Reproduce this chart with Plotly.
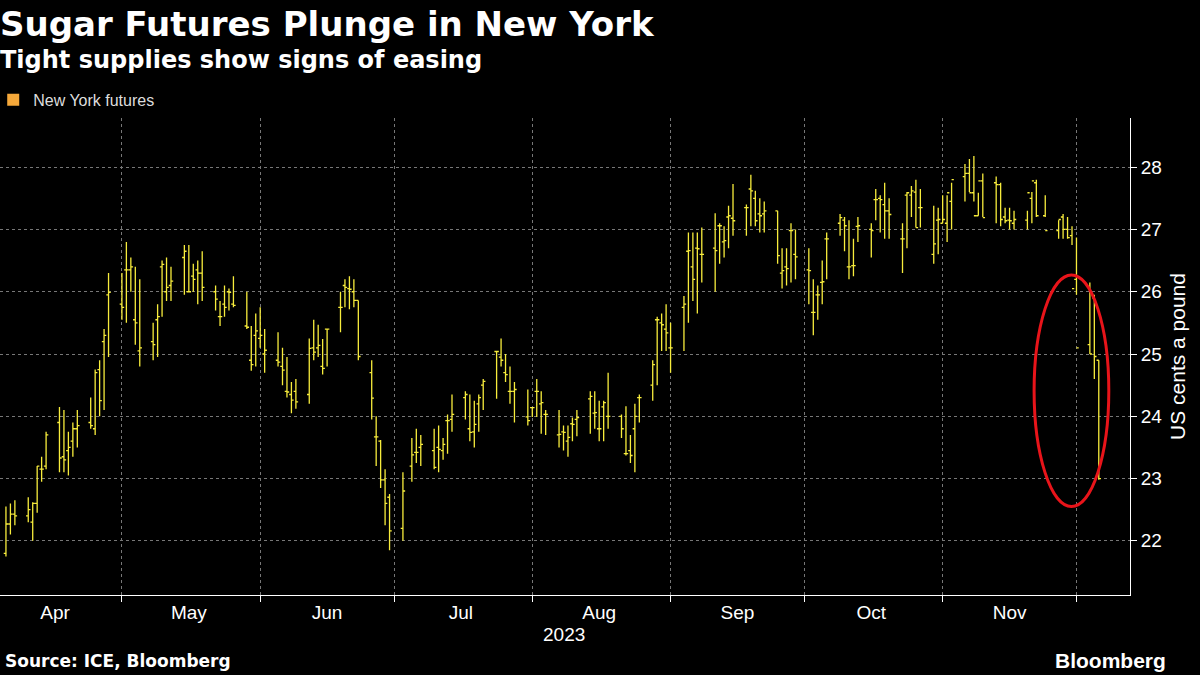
import pandas as pd
import plotly.graph_objects as go

opens = [21.80,22.27,22.43,22.40,22.30,22.60,23.15,23.20,23.90,23.35,23.45,23.60,23.80,23.90,23.80,24.75,25.20,25.95,25.80,26.35,26.35,25.55,25.05,25.20,25.55,26.40,26.00,26.10,26.55,26.00,26.25,26.35,
26.30,26.00,25.60,25.80,26.00,25.80,25.45,24.90,25.30,25.25,25.00,24.90,24.80,24.40,24.35,24.40,24.35,25.10,25.10,24.80,25.40,25.75,26.10,26.05,26.00,25.86,24.70,23.67,23.60,22.98,22.70,22.20,23.20,
23.42,23.50,23.45,23.50,23.45,23.93,23.95,24.30,23.80,23.75,24.20,24.50,25.04,24.95,24.70,24.40,24.40,23.99,24.14,24.40,24.20,24.03,23.70,23.75,23.60,23.88,23.95,24.28,24.05,23.80,24.15,24.00,24.00,23.40,23.45,23.80,24.30,24.50,
25.55,25.50,25.40,25.10,25.75,26.65,26.40,26.70,26.60,26.70,27.06,26.80,27.20,27.18,27.35,27.65,27.50,27.25,27.25,27.30,26.30,26.40,26.98,26.60,26.35,25.67,25.95,26.15,26.85,27.10,27.15,26.40,26.42,27.05,27.00,27.48,
27.50,27.40,27.30,26.85,27.55,27.55,27.60,27.35,26.60,27.15,27.10,27.10,27.45,27.85,27.90,27.59,27.22,27.78,27.75,27.72,27.20,27.15,27.10,27.15,27.50,27.75,27.22,26.98,27.20,27.00,26.90,26.20,25.15,25.90,24.90]
highs = [22.55,22.60,22.65,22.70,22.62,23.20,23.35,23.75,24.15,24.10,23.75,23.90,24.10,24.30,24.75,24.90,25.40,26.30,26.30,26.80,26.55,26.40,26.20,25.50,25.80,26.50,26.55,26.40,26.75,26.75,26.45,26.50,
26.65,26.10,25.85,26.10,26.05,26.25,26.00,25.45,25.65,25.75,25.40,25.35,25.10,24.95,24.55,24.60,25.25,25.55,25.47,25.24,25.40,26.00,26.20,26.25,26.20,25.86,24.90,24.00,23.62,23.15,22.75,23.10,23.65,
23.80,23.70,23.80,23.85,23.65,24.03,24.35,24.40,24.35,24.25,24.35,24.60,25.04,25.25,25.00,24.80,24.55,24.43,24.14,24.60,24.40,24.10,24.10,23.85,23.85,23.98,24.10,24.40,24.40,24.25,24.25,24.70,24.03,24.16,23.70,24.20,24.35,24.90,
25.60,25.65,25.80,25.50,25.93,26.95,26.95,26.95,27.03,27.26,27.10,27.05,27.38,27.73,27.40,27.88,27.62,27.50,27.45,27.30,26.70,26.70,27.10,27.00,26.70,26.20,26.10,26.50,26.95,27.25,27.20,27.15,26.85,27.20,27.10,27.65,
27.55,27.75,27.50,27.10,27.60,27.70,27.80,27.65,27.38,27.35,27.55,27.55,27.75,28.05,28.13,28.18,27.59,27.90,27.85,27.75,27.35,27.35,27.30,27.30,27.60,27.80,27.55,27.15,27.25,27.20,27.05,26.87,26.15,25.95,24.90]
lows = [21.75,22.10,22.25,22.30,22.00,22.45,22.95,23.15,23.10,23.10,23.05,23.35,23.50,23.80,23.70,24.00,24.10,24.95,25.55,25.50,26.00,25.15,24.80,24.90,24.95,25.60,25.85,25.85,25.95,26.00,26.00,25.80,
25.85,25.70,25.45,25.60,25.70,25.75,25.40,24.73,24.80,25.10,24.70,24.80,24.50,24.30,24.05,24.12,24.20,24.90,24.95,24.67,24.80,25.35,25.75,25.72,25.75,24.90,23.95,23.20,22.85,22.25,21.85,22.00,22.95,
23.25,23.20,23.15,23.10,23.30,23.40,23.75,23.95,23.60,23.50,23.75,24.10,24.28,24.80,24.55,24.20,23.90,23.85,23.99,23.99,23.72,23.70,23.50,23.45,23.35,23.60,23.68,23.72,23.80,23.60,23.60,23.80,23.65,23.37,23.25,23.10,23.90,24.25,
24.50,25.05,25.05,24.70,25.05,25.50,25.85,25.65,26.15,26.00,26.45,26.55,26.70,26.90,26.90,27.05,27.05,26.95,26.95,26.45,26.05,26.10,26.15,26.20,25.80,25.30,25.55,25.80,26.20,26.90,26.65,26.20,26.25,26.80,26.55,27.15,
26.95,26.85,26.85,26.30,26.70,27.20,27.03,27.03,26.45,26.60,27.10,26.80,27.00,27.45,27.60,27.45,27.22,27.20,27.10,27.05,27.10,27.00,27.00,27.00,27.10,27.20,27.20,26.85,26.85,26.85,26.75,25.95,25.00,24.60,22.98]
closes = [22.27,22.43,22.40,22.50,22.60,23.20,23.15,23.70,23.33,23.30,23.50,23.80,23.85,23.85,24.70,24.25,25.30,25.99,25.75,26.35,26.40,25.50,25.10,25.15,25.60,26.44,26.07,26.17,26.65,26.00,26.20,26.30,
26.07,25.88,25.60,25.75,25.99,25.78,25.43,24.83,25.37,25.30,25.06,24.87,24.74,24.39,24.26,24.23,25.09,25.03,25.14,24.77,25.40,25.75,26.07,26.04,25.86,24.96,24.29,23.67,22.98,22.60,22.16,22.80,23.38,
23.42,23.55,23.18,23.47,23.55,23.93,24.03,24.35,23.74,23.87,24.30,24.56,25.04,24.90,24.67,24.40,24.43,23.93,24.14,24.40,24.22,24.03,23.71,23.74,23.66,23.87,23.98,24.32,24.06,23.80,24.22,24.00,23.80,23.40,23.37,24.00,24.30,24.83,
25.55,25.47,25.34,25.10,25.80,26.66,26.20,26.69,26.60,26.66,27.06,26.82,27.22,27.14,27.35,27.62,27.14,27.22,27.30,26.58,26.34,26.37,26.98,26.56,26.34,25.67,25.95,26.16,26.85,27.19,27.06,26.40,26.42,27.06,26.98,27.48,
27.48,27.30,27.24,26.85,27.59,27.62,27.03,27.35,26.77,27.16,27.16,27.59,27.80,27.90,27.59,27.22,27.78,27.19,27.72,27.16,27.14,27.14,27.16,27.59,27.78,27.22,26.98,27.16,27.00,26.87,26.05,25.10,25.00,24.96,23.00]

holidays = ["2023-07-04", "2023-11-23"]
dates = pd.bdate_range(end="2023-12-06", periods=len(closes), freq="C", holidays=holidays)

month_starts = ["2023-04-01", "2023-05-01", "2023-06-01", "2023-07-01", "2023-08-01",
                "2023-09-01", "2023-10-01", "2023-11-01", "2023-12-01"]
month_mids = ["2023-04-16", "2023-05-16", "2023-06-16", "2023-07-16", "2023-08-16",
              "2023-09-16", "2023-10-16", "2023-11-16"]
month_labels = ["Apr", "May", "Jun", "Jul", "Aug", "Sep", "Oct", "Nov"]
y_ticks = [22, 23, 24, 25, 26, 27, 28]

YEL = "#f7ec3c"
fig = go.Figure()
fig.add_trace(go.Ohlc(x=dates, open=opens, high=highs, low=lows, close=closes,
                      increasing=dict(line=dict(color=YEL, width=1.3)),
                      decreasing=dict(line=dict(color=YEL, width=1.3)),
                      tickwidth=0.5, showlegend=False, hoverinfo="skip"))
fig.add_trace(go.Scatter(x=[None], y=[None], mode="markers", name="New York futures",
                         marker=dict(symbol="square", size=10, color="#f5a83a")))

fig.add_shape(type="circle", xref="x", yref="y", x0="2023-11-21 12:00", x1="2023-12-08 06:00",
              y0=22.55, y1=26.27, line=dict(color="#e8141a", width=3))

fig.update_layout(
    width=1200, height=675, paper_bgcolor="black", plot_bgcolor="black",
    margin=dict(l=0, r=70, t=118, b=80, autoexpand=False),
    font=dict(family="Liberation Sans, Arial", color="white"),
    showlegend=True,
    legend=dict(x=-0.006, y=1.038, xanchor="left", yanchor="middle", orientation="h",
                font=dict(size=16, color="#dddddd"), bgcolor="rgba(0,0,0,0)",
                itemwidth=30, itemsizing="constant", tracegroupgap=0),
    xaxis=dict(type="date", range=["2023-04-03 16:00", "2023-12-13"], rangeslider=dict(visible=False),
               tickvals=month_mids, ticktext=month_labels, ticks="", showgrid=False,
               tickfont=dict(size=19, color="white"), showline=True, linecolor="white",
               linewidth=1, zeroline=False, automargin=False,
               minor=dict(tickvals=month_starts, showgrid=True, gridcolor="#777777",
                          griddash="dot", gridwidth=1, ticks="outside", ticklen=6, tickcolor="white")),
    yaxis=dict(side="right", range=[21.13, 28.79], tickvals=y_ticks, ticks="outside",
               ticklen=6, tickcolor="white", showline=True, linecolor="white",
               showgrid=True, gridcolor="#777777", griddash="dot", zeroline=False,
               tickfont=dict(size=19, color="white"), automargin=False,
               title=dict(text="US cents a pound", font=dict(size=21, color="white"), standoff=8)),
    annotations=[
        dict(text="<b>Sugar Futures Plunge in New York</b>", xref="paper", yref="paper",
             x=0, y=1.197, xanchor="left", yanchor="middle", showarrow=False,
             font=dict(size=34, color="white", family="DejaVu Sans"), xshift=-2),
        dict(text="<b>Tight supplies show signs of easing</b>", xref="paper", yref="paper",
             x=0, y=1.122, xanchor="left", yanchor="middle", showarrow=False,
             font=dict(size=24, color="white", family="DejaVu Sans"), xshift=-2),
        dict(text="2023", xref="paper", yref="paper", x=0.499, y=-0.082, xanchor="center",
             yanchor="middle", showarrow=False, font=dict(size=19, color="white")),
        dict(text="<b>Source: ICE, Bloomberg</b>", xref="paper", yref="paper", x=0, y=-0.138,
             xanchor="left", yanchor="middle", showarrow=False,
             font=dict(size=17, color="white", family="DejaVu Sans"), xshift=3),
        dict(text="<b>Bloomberg</b>", xref="paper", yref="paper", x=1.034, y=-0.138,
             xanchor="right", yanchor="middle", showarrow=False, font=dict(size=21, color="white")),
    ],
)
fig.write_html("out.html", config={"displayModeBar": False})
with open("out.html", encoding="utf-8") as f:
    html = f.read()
html = html.replace("<head>", "<head><style>html,body{margin:0;padding:0;background:black;}</style>", 1)
with open("out.html", "w", encoding="utf-8") as f:
    f.write(html)
